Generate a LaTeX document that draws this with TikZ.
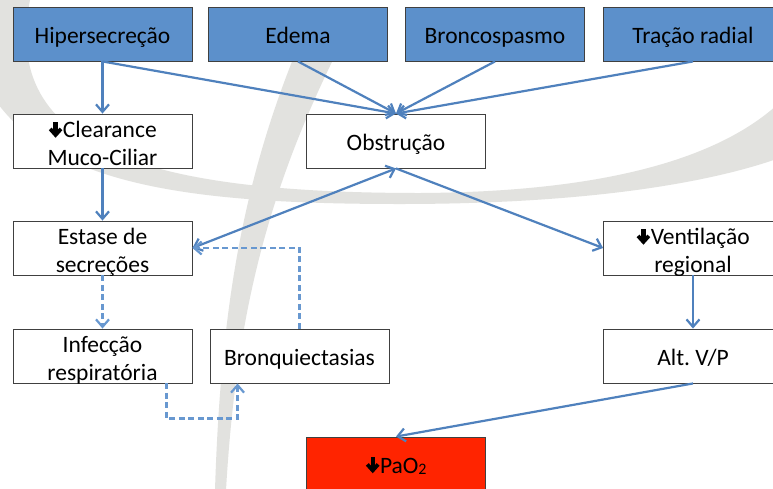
\documentclass[tikz,border=0pt]{standalone}
\usepackage{fontspec}
\setmainfont{Carlito}
\usetikzlibrary{arrows.meta}

\definecolor{azul}{RGB}{92,144,203}
\definecolor{linha}{RGB}{79,129,189}
\definecolor{tracejado}{RGB}{104,152,208}
\definecolor{vermelho}{RGB}{255,36,0}
\definecolor{borda}{RGB}{64,64,64}
\definecolor{marca}{RGB}{226,226,223}

% seta grossa para baixo (diminuicao)
\newcommand{\desce}{\tikz[baseline=0pt,x=1pt,y=1pt]{%
  \fill (-2.2,16) rectangle (2.2,5.5);
  \draw[line width=3.8pt,miter limit=4] (-5.4,8.6) -- (0,2.6) -- (5.4,8.6);}}

\begin{document}
\begin{tikzpicture}[x=1pt,y=-1pt]
  \tikzset{
    caixa/.style={draw=borda, line width=0.9pt, fill=white,
      minimum width=179pt, minimum height=54pt, inner sep=0pt,
      align=center, font=\fontsize{23.5}{27.5}\selectfont,
      text height=22pt, text depth=4pt},
    duas/.style={caixa, text height=50pt, text depth=2pt},
    causa/.style={caixa, fill=azul},
    alerta/.style={caixa, fill=vermelho},
    ponta/.style={-{Straight Barb[length=7.5pt,width=13pt]}},
    seta/.style={draw=linha, line width=2.2pt, ponta},
    setadupla/.style={seta, {Straight Barb[length=7.5pt,width=13pt]}-{Straight Barb[length=7.5pt,width=13pt]}},
    tracos/.style={draw=tracejado, line width=2.2pt, dash pattern=on 6pt off 3.5pt, ponta}
  }
  \useasboundingbox (0,0) rectangle (773,488);
  \clip (0,0) rectangle (773,488);
  \fill[white] (0,0) rectangle (773,488);

  % marca d'agua ao fundo
  \fill[marca] (-40,0) .. controls (-20,170) and (120,204) .. (400,204)
    .. controls (600,204) and (730,180) .. (800,150) -- (800,80)
    .. controls (740,160) and (600,192) .. (420,193)
    .. controls (150,193) and (0,150) .. (30,0) -- cycle;
  \fill[marca] (305,30) .. controls (245,170) and (221,300) .. (215,490)
    -- (226,490) .. controls (236,320) and (265,190) .. (348,30) -- cycle;

  % causas
  \node[causa] (hip) at (102.5,34) {Hipersecreção};
  \node[causa] (ede) at (298,34) {Edema};
  \node[causa] (bro) at (495,34) {Broncospasmo};
  \node[causa] (tra) at (693,34) {Tração radial};

  \node[duas] (clr) at (102.5,141) {\desce Clearance\\Muco-Ciliar};
  \node[caixa] (obs) at (396,141) {Obstrução};

  \node[duas] (est) at (102.5,248) {Estase de\\secreções};
  \node[duas] (ven) at (693,248) {\desce Ventilação\\regional};

  \node[duas] (inf) at (102.5,356) {Infecção\\respiratória};
  \node[caixa] (bqt) at (299.5,356) {Bronquiectasias};
  \node[caixa] (alt) at (693,356) {Alt.\ V/P};

  \node[alerta] (pao) at (396,464) {\desce PaO\raisebox{-1pt}{\fontsize{16}{16}\selectfont 2}};

  % ligacoes
  \draw[seta] (hip.south) -- (clr.north);
  \draw[seta] (hip.south) -- (obs.north);
  \draw[seta] (ede.south) -- (obs.north);
  \draw[seta] (bro.south) -- (obs.north);
  \draw[seta] (tra.south) -- (obs.north);
  \draw[seta] (clr.south) -- (est.north);
  \draw[setadupla] (est.east) -- (obs.south);
  \draw[seta] (obs.south) -- (ven.west);
  \draw[seta] (ven.south) -- (alt.north);
  \draw[seta] (alt.south) -- (pao.north);

  \draw[tracos] (est.south) -- (inf.north);
  \draw[tracos] ([xshift=-26pt]inf.south east) -- ++(0,35) -| ([xshift=28pt]bqt.south west);
  \draw[tracos] (bqt.north) |- (est.east);
\end{tikzpicture}
\end{document}
